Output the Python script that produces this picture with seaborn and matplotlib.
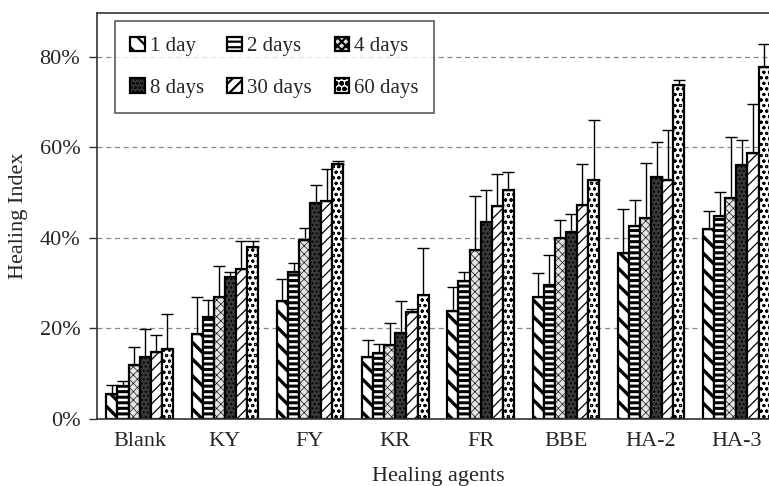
import matplotlib
matplotlib.use("Agg")
import matplotlib.pyplot as plt
import seaborn as sns
import numpy as np
import pandas as pd
from matplotlib.ticker import FixedLocator, FuncFormatter

agents = ["Blank", "KY", "FY", "KR", "FR", "BBE", "HA-2", "HA-3"]
periods = ["1 day", "2 days", "4 days", "8 days", "30 days", "60 days"]

# mean healing index (%) per agent, one list per period
day1 = [5.6, 18.8, 26.0, 13.7, 23.9, 27.0, 36.7, 42.0]
day2 = [7.4, 22.5, 32.4, 14.6, 30.4, 29.7, 42.7, 44.9]
day4 = [12.0, 26.9, 39.6, 16.4, 37.4, 40.0, 44.5, 48.8]
day8 = [13.8, 31.4, 47.7, 19.1, 43.6, 41.3, 53.5, 56.2]
day30 = [14.7, 33.2, 48.2, 23.6, 47.0, 47.3, 52.9, 58.8]
day60 = [15.5, 38.1, 56.4, 27.5, 50.6, 52.7, 73.7, 77.8]

# upper error (%) per agent
err1 = [2.0, 8.1, 4.9, 3.8, 5.2, 5.2, 9.6, 3.9]
err2 = [0.9, 3.9, 2.1, 1.9, 2.1, 6.5, 5.7, 5.3]
err4 = [3.8, 7.0, 2.5, 4.9, 11.9, 4.0, 12.0, 13.4]
err8 = [6.1, 1.0, 3.9, 7.0, 6.9, 3.9, 7.6, 5.5]
err30 = [3.9, 6.1, 7.1, 0.8, 7.1, 9.0, 11.0, 10.9]
err60 = [7.8, 1.2, 0.7, 10.2, 3.9, 13.3, 1.1, 5.1]

means = [day1, day2, day4, day8, day30, day60]
errs = [err1, err2, err4, err8, err30, err60]

df = pd.DataFrame(
    [(a, p, means[j][i]) for j, p in enumerate(periods) for i, a in enumerate(agents)],
    columns=["agent", "period", "value"],
)

sns.set_style("white")
plt.rcParams["font.family"] = ["Liberation Serif", "DejaVu Serif"]
plt.rcParams["hatch.linewidth"] = 1.6

fig = plt.figure(figsize=(7.69, 4.86), dpi=100)
ax = fig.add_axes([97 / 769, 1 - 419 / 486, 682 / 769, 406 / 486])

face = ["white", "white", "#e4e4e4", "#3a3a3a", "white", "white"]
hatches = ["\\\\", "---", "xxxx", "....", "///", "ooo"]
hlw = [2.4, 2.2, 0.45, 1.0, 0.9, 0.7]

sns.barplot(
    data=df, x="agent", y="value", hue="period", order=agents, hue_order=periods,
    palette=face, width=0.78, gap=0, errorbar=None, edgecolor="black",
    linewidth=1.6, legend=False, ax=ax, saturation=1,
)

bar_conts = list(ax.containers)
for j, cont in enumerate(bar_conts):
    xs, ys = [], []
    for p in cont.patches:
        p.set_hatch(hatches[j])
        p.set_edgecolor("black")
        if hasattr(p, "set_hatch_linewidth"):
            p.set_hatch_linewidth(hlw[j])
        p.set_zorder(2)
        xs.append(p.get_x() + p.get_width() / 2)
        ys.append(p.get_height())
    e = np.array(errs[j])
    ax.errorbar(xs, ys, yerr=[np.zeros_like(e), e], fmt="none", ecolor="black",
                elinewidth=1.0, capsize=4, capthick=1.0, zorder=3)

ax.set_xlim(-0.5, 7.5)
ax.set_ylim(0, 89.7)
ax.yaxis.set_major_locator(FixedLocator([0, 20, 40, 60, 80]))
ax.yaxis.set_major_formatter(FuncFormatter(lambda v, _: f"{v:.0f}%"))
ax.xaxis.set_minor_locator(FixedLocator(np.arange(0.5, 7.5, 1.0)))
ax.tick_params(axis="x", which="major", length=0, pad=9, labelsize=16)
ax.tick_params(axis="x", which="minor", direction="in", length=5, width=1, color="#333")
ax.tick_params(axis="y", which="major", direction="out", length=6, width=1, color="#333",
               pad=6, labelsize=16, left=True)

ax.yaxis.grid(True, linestyle=(0, (4, 3)), color="#888888", linewidth=0.9)
ax.set_axisbelow(True)
for s in ["left", "bottom", "top"]:
    ax.spines[s].set_color("#333333")
    ax.spines[s].set_linewidth(1.2)
ax.spines["right"].set_visible(False)

ax.set_xlabel("Healing agents", fontsize=16, labelpad=12)
ax.set_ylabel("Healing Index", fontsize=16, labelpad=8)

handles = [c.patches[0] for c in bar_conts]
order = [0, 3, 1, 4, 2, 5]
leg = ax.legend([handles[i] for i in order], [periods[i] for i in order], ncol=3,
                loc="upper left", bbox_to_anchor=(0.026, 0.98), borderaxespad=0,
                fontsize=15, handlelength=0.7, handleheight=0.7, handletextpad=0.25,
                columnspacing=1.1, labelspacing=1.05, borderpad=0.75,
                frameon=True, fancybox=False, edgecolor="#333333")
leg.get_frame().set_linewidth(1.2)

fig.savefig("out.png", dpi=100)
